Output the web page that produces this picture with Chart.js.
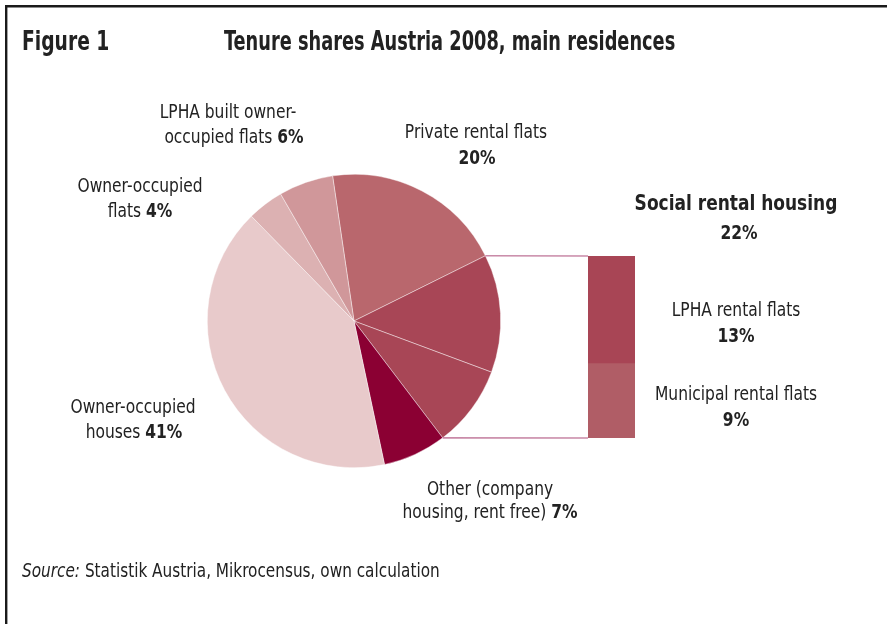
<!DOCTYPE html>
<html>
<head>
<meta charset="utf-8">
<script src="https://cdn.jsdelivr.net/npm/chart.js@4.4.0/dist/chart.umd.min.js"></script>
<style>
body { margin: 0; background: #fff; }
#wrap { position: relative; width: 887px; height: 624px; }
#wrap canvas { position: absolute; left: 0; top: 0; }
</style>
</head>
<body>
<div id="wrap">
    <canvas id="pie-chart" width="887" height="624"></canvas>
    <canvas id="bar-chart" width="887" height="624"></canvas>
</div>
<script>
// Tenure shares Austria 2008 - pie order clockwise from "Private rental flats"
var tenureLabels = ["Private rental flats", "LPHA rental flats", "Municipal rental flats",
    "Other (company housing, rent free)", "Owner-occupied houses", "Owner-occupied flats",
    "LPHA built owner-occupied flats"];
var tenureShares = [20, 13, 9, 7, 41, 4, 6];
var tenureColors = ["#b9676d", "#a84656", "#a84656", "#8b0033", "#e8cacb", "#dcb1b2", "#d0979a"];

// Social rental housing split (bar of pie), bottom to top
var socialLabels = ["Municipal rental flats", "LPHA rental flats"];
var socialShares = [9, 13];
var socialColors = ["#b05d66", "#a84555"];
var socialTotal = 22;

var FONT = '"Liberation Sans Narrow", "DejaVu Sans Condensed", "Roboto", sans-serif';
var REG = '20px ' + FONT;
var BOLD = 'bold 20px ' + FONT;
var SX = 0.86; // the original uses a condensed face, squeeze the text

function drawRuns(ctx, runs, cx, y, sx, align) {
    sx = sx || SX;
    var total = 0;
    runs.forEach(function (r) { ctx.font = r[1]; total += ctx.measureText(r[0]).width; });
    ctx.save();
    ctx.translate(cx, y);
    ctx.scale(sx, 1);
    ctx.textAlign = 'left';
    var x = align == 'left' ? 0 : -total / 2;
    runs.forEach(function (r) {
        ctx.font = r[1];
        ctx.fillText(r[0], x, 0);
        x += ctx.measureText(r[0]).width;
    });
    ctx.restore();
}

var textPlugin = {
    id: 'textPlugin',
    afterDraw: function (chart) {
        var ctx = chart.ctx;
        ctx.save();
        // frame
        ctx.strokeStyle = '#1a1a1a';
        ctx.lineWidth = 2.4;
        ctx.beginPath();
        ctx.moveTo(6.2, 624);
        ctx.lineTo(6.2, 6.2);
        ctx.lineTo(887, 6.2);
        ctx.stroke();

        ctx.fillStyle = '#222';
        ctx.textBaseline = 'alphabetic';
        var TITLE = 'bold 26px ' + FONT;
        drawRuns(ctx, [['Figure 1', TITLE]], 22, 50, 0.8, 'left');
        drawRuns(ctx, [['Tenure shares Austria 2008, main residences', TITLE]], 224, 50, 0.76, 'left');

        // slice labels
        drawRuns(ctx, [['LPHA built owner-', REG]], 228, 118);
        drawRuns(ctx, [['occupied flats ', REG], ['6%', BOLD]], 234, 143);
        drawRuns(ctx, [['Owner-occupied', REG]], 140, 192);
        drawRuns(ctx, [['flats ', REG], ['4%', BOLD]], 140, 217);
        drawRuns(ctx, [['Private rental flats', REG]], 476, 138);
        drawRuns(ctx, [['20%', BOLD]], 477, 164);
        drawRuns(ctx, [['Owner-occupied', REG]], 133, 413);
        drawRuns(ctx, [['houses ', REG], ['41%', BOLD]], 134, 438);
        drawRuns(ctx, [['Other (company', REG]], 490, 495);
        drawRuns(ctx, [['housing, rent free) ', REG], ['7%', BOLD]], 490, 518);

        drawRuns(ctx, [['Social rental housing', 'bold 22px ' + FONT]], 736, 210);
        drawRuns(ctx, [[socialTotal + '%', BOLD]], 739, 239);
        drawRuns(ctx, [['LPHA rental flats', REG]], 736, 316);
        drawRuns(ctx, [[socialShares[1] + '%', BOLD]], 736, 342);
        drawRuns(ctx, [['Municipal rental flats', REG]], 736, 400);
        drawRuns(ctx, [[socialShares[0] + '%', BOLD]], 736, 426);

        // source
        drawRuns(ctx, [['Source:', 'italic 20px ' + FONT], [' Statistik Austria, Mikrocensus, own calculation', REG]], 22, 577, 0.85, 'left');
        ctx.restore();
    }
};

var pieChart = new Chart(document.getElementById('pie-chart').getContext('2d'), {
    type: 'pie',
    data: {
        labels: tenureLabels,
        datasets: [{
            data: tenureShares,
            backgroundColor: tenureColors,
            borderColor: 'rgba(255,255,255,0.7)',
            borderWidth: 0.6
        }]
    },
    options: {
        responsive: false,
        animation: false,
        rotation: -8.4,
        layout: { padding: { left: 207, right: 386, top: 174, bottom: 156 } },
        plugins: { legend: { display: false }, tooltip: { enabled: false } }
    },
    plugins: [textPlugin]
});

// connector lines from pie to the social housing bar
var connectorPlugin = {
    id: 'connectorPlugin',
    afterDraw: function (chart) {
        var arcs = pieChart.getDatasetMeta(0).data;
        var bottomBar = chart.getDatasetMeta(0).data[0];
        var topBar = chart.getDatasetMeta(1).data[0];
        var left = topBar.x - topBar.width / 2;
        var a1 = arcs[1], a2 = arcs[2];
        var ctx = chart.ctx;
        ctx.save();
        ctx.strokeStyle = '#c98aa8';
        ctx.lineWidth = 1.6;
        ctx.beginPath();
        ctx.moveTo(a1.x + a1.outerRadius * Math.cos(a1.startAngle), a1.y + a1.outerRadius * Math.sin(a1.startAngle));
        ctx.lineTo(left, topBar.y);
        ctx.moveTo(a2.x + a2.outerRadius * Math.cos(a2.endAngle), a2.y + a2.outerRadius * Math.sin(a2.endAngle));
        ctx.lineTo(left, bottomBar.base);
        ctx.stroke();
        ctx.restore();
    }
};

var barChart = new Chart(document.getElementById('bar-chart').getContext('2d'), {
    type: 'bar',
    data: {
        labels: ['Social rental housing'],
        datasets: socialLabels.map(function (lbl, i) {
            return {
                label: lbl,
                data: [socialShares[i]],
                backgroundColor: socialColors[i],
                borderWidth: 0,
                barPercentage: 1,
                categoryPercentage: 1
            };
        })
    },
    options: {
        responsive: false,
        animation: false,
        layout: { padding: { left: 588, right: 252, top: 256, bottom: 186 } },
        scales: {
            x: { stacked: true, display: false },
            y: { stacked: true, display: false, min: 0, max: socialTotal }
        },
        plugins: { legend: { display: false }, tooltip: { enabled: false } }
    },
    plugins: [connectorPlugin]
});
</script>
</body>
</html>
